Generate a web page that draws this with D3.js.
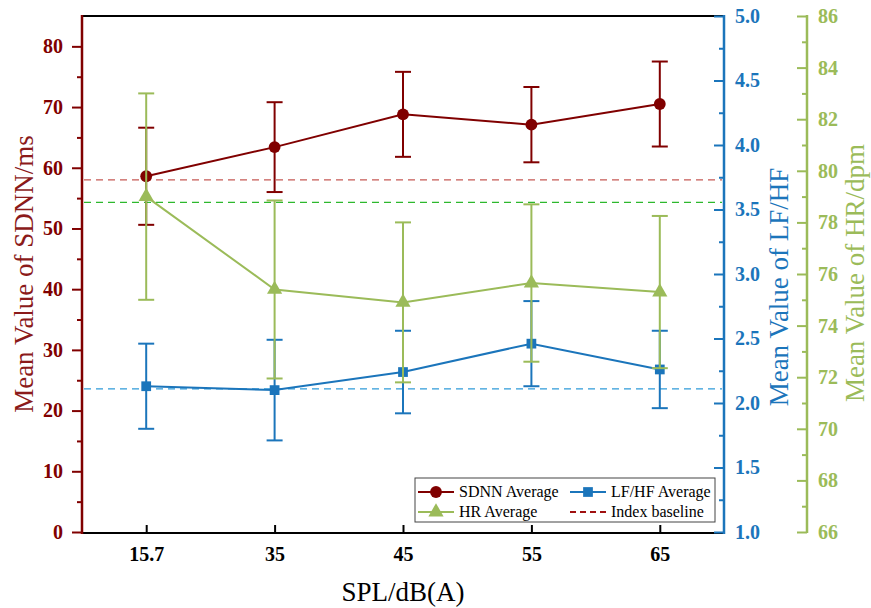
<!DOCTYPE html>
<html>
<head>
<meta charset="UTF-8">
<title>SDNN, LF/HF and HR vs SPL</title>
<script src="https://d3js.org/d3.v7.min.js"></script>
<style>
    body { margin: 0; background: #fff; }
    svg text { font-family: "Liberation Serif", "Times New Roman", serif; }
    .tick text { font-weight: bold; font-size: 20px; }
    .axis-title { font-size: 27px; }
    .legend text { font-size: 16px; fill: #000; }
</style>
</head>
<body>
<svg id="chart" width="871" height="608"></svg>
<script>
// values
const levels = ["15.7", "35", "45", "55", "65"];
const sdnnMean = [58.6, 63.4, 68.8, 67.1, 70.5];
const sdnnSd = [8.0, 7.4, 7.0, 6.2, 7.0];
const lfhfMean = [2.13, 2.10, 2.24, 2.46, 2.26];
const lfhfSd = [0.33, 0.39, 0.32, 0.33, 0.30];
const hrMean = [79.0, 75.4, 74.9, 75.65, 75.3];
const hrSd = [4.0, 3.45, 3.1, 3.05, 2.95];
const sdnnBaseline = 58.0;
const lfhfBaseline = 2.11;
const hrBaseline = 78.78;

const sdnnTicks = [0, 10, 20, 30, 40, 50, 60, 70, 80];
const lfhfTicks = [1.0, 1.5, 2.0, 2.5, 3.0, 3.5, 4.0, 4.5, 5.0];
const hrTicks = [66, 68, 70, 72, 74, 76, 78, 80, 82, 84, 86];

const red = "#800000", blue = "#1B75BB", green = "#9BBB59";

const plotL = 82, plotR = 724, plotT = 16, plotB = 532;
const svg = d3.select("#chart");

const x = d3.scalePoint().domain(levels).range([plotL, plotR]).padding(0.5);
const ySdnn = d3.scaleLinear().domain([0, 85]).range([plotB, plotT]);
const yLfhf = d3.scaleLinear().domain([1, 5]).range([plotB, plotT]);
const yHr = d3.scaleLinear().domain([66, 86]).range([plotB, plotT]);

function styleAxis(g, color) {
    g.select(".domain").remove();
    g.selectAll(".tick line").attr("stroke", color).attr("stroke-width", 2);
    g.selectAll(".tick text").attr("fill", color);
}

// frame top line
svg.append("line")
    .attr("x1", plotL).attr("x2", plotR).attr("y1", plotT).attr("y2", plotT)
    .attr("stroke", "#000").attr("stroke-width", 2);

// x axis
const xAxis = svg.append("g")
    .attr("transform", `translate(0,${plotB + 1})`)
    .call(d3.axisBottom(x).tickSizeInner(-8).tickSizeOuter(0).tickPadding(14));
xAxis.select(".domain").remove();
xAxis.selectAll(".tick line").attr("stroke", "#000").attr("stroke-width", 2);
xAxis.selectAll(".tick text").attr("fill", "#000");
svg.append("line")
    .attr("x1", plotL).attr("x2", plotR).attr("y1", plotB + 1).attr("y2", plotB + 1)
    .attr("stroke", "#000").attr("stroke-width", 2);
svg.append("text")
    .attr("class", "axis-title")
    .attr("x", (plotL + plotR) / 2).attr("y", 601)
    .attr("text-anchor", "middle")
    .attr("fill", "#000")
    .text("SPL/dB(A)");

// left axis (SDNN)
svg.append("g").attr("transform", `translate(${plotL},0)`)
    .call(d3.axisLeft(ySdnn).tickValues(d3.range(5, 85, 10)).tickSize(5).tickFormat(""))
    .call(g => styleAxis(g, red));
svg.append("g").attr("transform", `translate(${plotL},0)`)
    .call(d3.axisLeft(ySdnn).tickValues(sdnnTicks).tickSize(10).tickPadding(9))
    .call(g => styleAxis(g, red));
svg.append("line")
    .attr("x1", plotL).attr("x2", plotL).attr("y1", plotT - 1).attr("y2", plotB + 2)
    .attr("stroke", red).attr("stroke-width", 2.5);
svg.append("text")
    .attr("class", "axis-title")
    .attr("transform", `translate(33,${(plotT + plotB) / 2}) rotate(-90)`)
    .attr("text-anchor", "middle")
    .attr("fill", "#8B1A1A")
    .text("Mean Value of SDNN/ms");

// right axis (LF/HF)
svg.append("g").attr("transform", `translate(${plotR},0)`)
    .call(d3.axisLeft(yLfhf).tickValues(d3.range(1.25, 5, 0.5)).tickSize(5).tickFormat(""))
    .call(g => styleAxis(g, blue));
const lfAxis = svg.append("g").attr("transform", `translate(${plotR},0)`)
    .call(d3.axisLeft(yLfhf).tickValues(lfhfTicks).tickSize(10).tickFormat(d3.format(".1f")))
    .call(g => styleAxis(g, blue));
lfAxis.selectAll(".tick text").attr("x", 11).attr("text-anchor", "start");
svg.append("line")
    .attr("x1", plotR).attr("x2", plotR).attr("y1", plotT - 1).attr("y2", plotB + 2)
    .attr("stroke", blue).attr("stroke-width", 2.5);
svg.append("text")
    .attr("class", "axis-title")
    .attr("transform", `translate(788,287) rotate(-90)`)
    .attr("text-anchor", "middle")
    .attr("fill", blue)
    .text("Mean Value of LF/HF");

// second right axis (HR)
const hrX = 807;
svg.append("g").attr("transform", `translate(${hrX},0)`)
    .call(d3.axisLeft(yHr).tickValues(d3.range(67, 86, 2)).tickSize(5).tickFormat(""))
    .call(g => styleAxis(g, green));
const hrAxis = svg.append("g").attr("transform", `translate(${hrX},0)`)
    .call(d3.axisLeft(yHr).tickValues(hrTicks).tickSize(10))
    .call(g => styleAxis(g, green));
hrAxis.selectAll(".tick text").attr("x", 11).attr("text-anchor", "start");
svg.append("line")
    .attr("x1", hrX).attr("x2", hrX).attr("y1", plotT - 1).attr("y2", plotB + 1)
    .attr("stroke", green).attr("stroke-width", 2.5);
svg.append("text")
    .attr("class", "axis-title")
    .attr("transform", `translate(864,273) rotate(-90)`)
    .attr("text-anchor", "middle")
    .attr("fill", green)
    .text("Mean Value of HR/dpm");

// baselines
[[ySdnn(sdnnBaseline), "#C65A55"], [yHr(hrBaseline), "#2DB82D"], [yLfhf(lfhfBaseline), "#2F9BD9"]]
    .forEach(([yy, c]) => {
        svg.append("line")
            .attr("x1", plotL + 2).attr("x2", plotR - 2).attr("y1", yy).attr("y2", yy)
            .attr("stroke", c).attr("stroke-width", 1.3)
            .attr("stroke-dasharray", "7,5");
    });

// series
function drawSeries(means, sds, y, color, marker) {
    const g = svg.append("g");
    const pts = levels.map((l, i) => ({ l: l, m: means[i], s: sds[i] }));
    g.append("path")
        .datum(pts)
        .attr("fill", "none")
        .attr("stroke", color)
        .attr("stroke-width", 2)
        .attr("d", d3.line().x(d => x(d.l)).y(d => y(d.m)));
    const eb = g.selectAll(".eb").data(pts).enter().append("g")
        .attr("stroke", color).attr("stroke-width", 2);
    eb.append("line")
        .attr("x1", d => x(d.l)).attr("x2", d => x(d.l))
        .attr("y1", d => y(d.m + d.s)).attr("y2", d => y(d.m - d.s));
    eb.append("line")
        .attr("x1", d => x(d.l) - 8).attr("x2", d => x(d.l) + 8)
        .attr("y1", d => y(d.m + d.s)).attr("y2", d => y(d.m + d.s));
    eb.append("line")
        .attr("x1", d => x(d.l) - 8).attr("x2", d => x(d.l) + 8)
        .attr("y1", d => y(d.m - d.s)).attr("y2", d => y(d.m - d.s));
    g.selectAll(".mk").data(pts).enter().append("path")
        .attr("transform", d => `translate(${x(d.l)},${y(d.m)})`)
        .attr("d", marker)
        .attr("fill", color);
}

const circleMark = d3.symbol().type(d3.symbolCircle).size(110)();
const squareMark = d3.symbol().type(d3.symbolSquare).size(95)();
const triMark = d3.symbol().type(d3.symbolTriangle).size(100)();

drawSeries(sdnnMean, sdnnSd, ySdnn, red, circleMark);
drawSeries(lfhfMean, lfhfSd, yLfhf, blue, squareMark);
drawSeries(hrMean, hrSd, yHr, green, triMark);

// legend
const lg = svg.append("g").attr("class", "legend");
lg.append("rect")
    .attr("x", 415).attr("y", 478).attr("width", 300).attr("height", 44)
    .attr("fill", "#fff").attr("stroke", "#444").attr("stroke-width", 1);
const legendItems = [
    { label: "SDNN Average", color: red, mark: circleMark, cx: 436, cy: 492, dash: null },
    { label: "LF/HF Average", color: blue, mark: squareMark, cx: 588, cy: 492, dash: null },
    { label: "HR Average", color: green, mark: triMark, cx: 436, cy: 512, dash: null },
    { label: "Index baseline", color: "#A01010", mark: null, cx: 588, cy: 512, dash: "6,4" }
];
legendItems.forEach(it => {
    lg.append("line")
        .attr("x1", it.cx - 18).attr("x2", it.cx + 18)
        .attr("y1", it.cy).attr("y2", it.cy)
        .attr("stroke", it.color).attr("stroke-width", 2)
        .attr("stroke-dasharray", it.dash);
    if (it.mark) {
        lg.append("path")
            .attr("transform", `translate(${it.cx},${it.cy})`)
            .attr("d", it.mark)
            .attr("fill", it.color);
    }
    lg.append("text")
        .attr("x", it.cx + 23).attr("y", it.cy + 5)
        .text(it.label);
});
</script>
</body>
</html>
